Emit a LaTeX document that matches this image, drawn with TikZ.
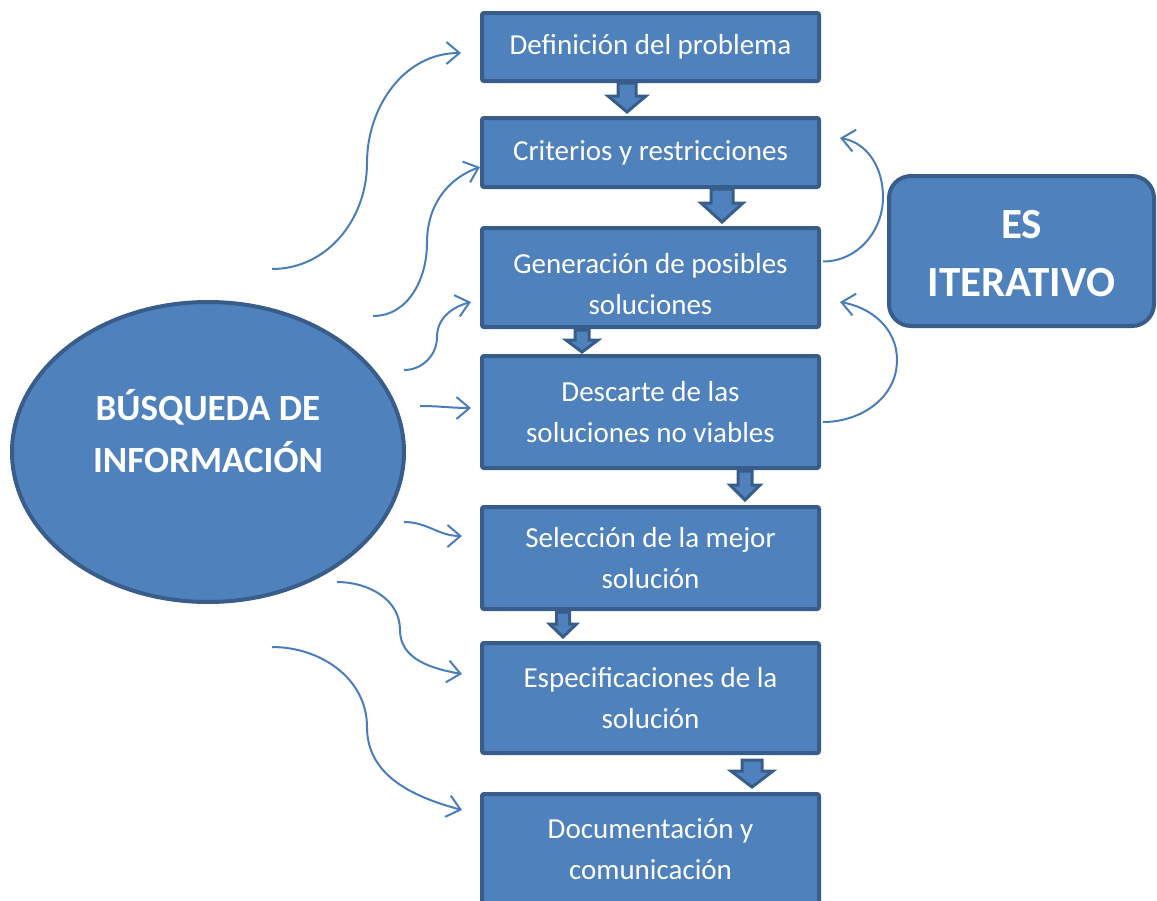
\documentclass[tikz,border=0pt]{standalone}
\usepackage{fontspec}
\setmainfont{Carlito}
\usetikzlibrary{arrows.meta,shapes.geometric,calc}
\definecolor{boxblue}{HTML}{4F81BD}
\definecolor{boxline}{HTML}{385D8A}
\definecolor{curveblue}{HTML}{4A7EBB}
\newcommand\blkarrow[6]{%
  \filldraw[blkarrow] ({#1-#4/2},{-#2}) -- ({#1+#4/2},{-#2}) -- ({#1+#4/2},{-#6}) -- ({#1+#5/2},{-#6}) -- (#1,{-#3}) -- ({#1-#5/2},{-#6}) -- ({#1-#4/2},{-#6}) -- cycle;}
\begin{document}
\begin{tikzpicture}[x=1pt,y=1pt,
  stepbox/.style={draw=boxline, fill=boxblue, line width=4pt, rounded corners=2pt,
    minimum width=337pt, inner sep=0pt, text=white, align=center,
    font=\fontsize{29}{41}\selectfont},
  blkarrow/.style={fill=boxblue, draw=boxline, line width=3pt, line join=miter},
  flow/.style={draw=curveblue, line width=2pt, -{Straight Barb[length=13pt,width=22pt]}},
  bigtext/.style={text=white, align=center, font=\bfseries\fontsize{37}{52}\selectfont}]
\useasboundingbox (0,0) rectangle (1157,-900);
% process boxes
\node[stepbox, minimum height=68pt] (b1) at (650.5,-47) {Definición del problema};
\node[stepbox, minimum height=69pt] (b2) at (650.5,-152.5) {Criterios y restricciones};
\node[stepbox, minimum height=99pt] (b3) at (650.5,-277.5) {\rule{0pt}{34pt}Generación de posibles\\soluciones};
\node[stepbox, minimum height=112pt] (b4) at (650.5,-412) {Descarte de las\\soluciones no viables};
\node[stepbox, minimum height=102pt] (b5) at (650.5,-558) {Selección de la mejor\\solución};
\node[stepbox, minimum height=110pt] (b6) at (650.5,-698) {Especificaciones de la\\solución};
\node[stepbox, minimum height=110pt] (b7) at (650.5,-849) {Documentación y\\comunicación};
% ellipse
\node[ellipse, draw=boxline, fill=boxblue, line width=4pt, minimum width=392pt, minimum height=300pt,
  inner sep=0pt] (bus) at (208,-452) {};
\node[bigtext] (bustext) at (208,-431) {BÚSQUEDA DE\\INFORMACIÓN};
% iterative box
\node[draw=boxline, fill=boxblue, line width=4pt, rounded corners=22pt, minimum width=265pt,
  minimum height=150pt, inner sep=0pt] (it) at (1021.5,-251) {};
\node[text=white, align=center, font=\bfseries\fontsize{43}{58}\selectfont] (ittext) at (1021.5,-254) {ES\\ITERATIVO};
% block arrows
\blkarrow{627}{83}{112}{18}{38}{96}
\blkarrow{722}{189}{222}{22}{42}{203}
\blkarrow{582}{330}{352}{14}{32}{340}
\blkarrow{745}{471}{500}{14}{30}{485}
\blkarrow{563}{612}{637}{13}{27}{624}
\blkarrow{752}{760}{787}{20}{42}{771}
% free ends of the left curves
\coordinate (c1s) at (272,-269); \coordinate (c1m) at (367,-163); \coordinate (c1e) at (461,-53);
\coordinate (c2s) at (373,-316); \coordinate (c2m) at (427,-243); \coordinate (c2e) at (480,-167);
\coordinate (c3s) at (404,-370); \coordinate (c3m) at (437,-337); \coordinate (c3e) at (471,-302);
\coordinate (c4s) at (420,-406); \coordinate (c4e) at (471,-408);
\coordinate (c5s) at (404,-522); \coordinate (c5e) at (462,-536);
\coordinate (c6s) at (337,-582); \coordinate (c6m) at (400,-630); \coordinate (c6e) at (462,-674);
\coordinate (c7s) at (272,-647); \coordinate (c7m) at (367,-727); \coordinate (c7e) at (462,-810);
\draw[flow] (c1s) to[out=0,in=-90] (c1m) to[out=90,in=180] (c1e);
\draw[flow] (c2s) to[out=0,in=-90] (c2m) to[out=90,in=200] (c2e);
\draw[flow] (c3s) to[out=0,in=-90] (c3m) to[out=90,in=195] (c3e);
\draw[flow] (c4s) to[out=0,in=180] (c4e);
\draw[flow] (c5s) to[out=0,in=180] (c5e);
\draw[flow] (c6s) to[out=0,in=90] (c6m) to[out=-90,in=170] (c6e);
\draw[flow] (c7s) to[out=0,in=90] (c7m) to[out=-90,in=165] (c7e);
% right iteration curves
\coordinate (r1m) at (883,-197); \coordinate (r1e) at (840,-138);
\coordinate (r2m) at (897,-360); \coordinate (r2e) at (840,-302);
\draw[flow] ($(b3.east)+(2,16)$) to[out=0,in=-90] (r1m) to[out=90,in=-10] (r1e);
\draw[flow] ($(b4.east)+(2,-10)$) to[out=0,in=-90] (r2m) to[out=90,in=-10] (r2e);
\end{tikzpicture}
\end{document}
